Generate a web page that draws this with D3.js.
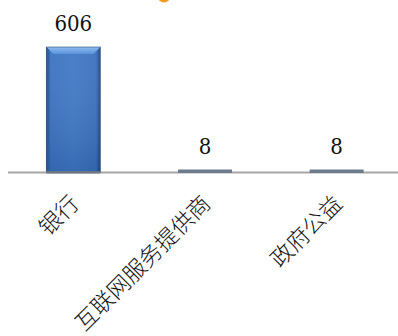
<!DOCTYPE html>
<html>
<head>
<meta charset="utf-8">
<script src="https://cdn.jsdelivr.net/npm/d3@7"></script>
<style>
  html, body { margin: 0; padding: 0; background: #fff; }
  svg { display: block; }
  .val { font-family: "DejaVu Serif Condensed", "DejaVu Serif", serif; font-stretch: condensed; font-size: 22px; fill: #111; }
  .cat { font-family: "Noto Sans CJK SC", sans-serif; font-size: 22.5px; font-weight: 300; fill: #111; }
</style>
</head>
<body>
<svg id="chart" width="398" height="336"></svg>
<script>
// Data
const categories = ["银行", "互联网服务提供商", "政府公益"];
const values = [606, 8, 8];

const W = 398, H = 336;
const plot = { left: 8, right: 403, top: 47, bottom: 172 };

const svg = d3.select("#chart");

// band scale: one slot per category, bar drawn centred in each slot
const x = d3.scaleBand()
  .domain(categories)
  .range([plot.left, plot.right])
  .paddingInner(0)
  .paddingOuter(0);
const barW = 54;
const cx = d => x(d) + x.bandwidth() / 2 - 0.5;

const y = d3.scaleLinear()
  .domain([0, 606])
  .range([plot.bottom, plot.top]);

const defs = svg.append("defs");

// horizontal shading: darker edges, lighter body
const gBody = defs.append("linearGradient").attr("id", "body").attr("x1", 0).attr("x2", 1).attr("y1", 0).attr("y2", 0);
gBody.append("stop").attr("offset", "0%").attr("stop-color", "#24508f");
gBody.append("stop").attr("offset", "8%").attr("stop-color", "#3b72c0");
gBody.append("stop").attr("offset", "50%").attr("stop-color", "#4079c6");
gBody.append("stop").attr("offset", "92%").attr("stop-color", "#3a70bc");
gBody.append("stop").attr("offset", "100%").attr("stop-color", "#1f4680");

// vertical fade toward the base
const gFade = defs.append("linearGradient").attr("id", "fade").attr("x1", 0).attr("x2", 0).attr("y1", 0).attr("y2", 1);
gFade.append("stop").attr("offset", "0%").attr("stop-color", "#ffffff").attr("stop-opacity", 0.05);
gFade.append("stop").attr("offset", "100%").attr("stop-color", "#0a2a5a").attr("stop-opacity", 0.18);

const gTop = defs.append("linearGradient").attr("id", "bevelTop").attr("x1", 0).attr("x2", 0).attr("y1", 0).attr("y2", 1);
gTop.append("stop").attr("offset", "0%").attr("stop-color", "#8fbcf0");
gTop.append("stop").attr("offset", "100%").attr("stop-color", "#5a92da");

// title marker peeking in at the very top
svg.append("circle").attr("cx", 164).attr("cy", -4).attr("r", 6.5).attr("fill", "#f39a1e");

// baseline
svg.append("line")
  .attr("x1", plot.left).attr("x2", W)
  .attr("y1", plot.bottom + 0.5).attr("y2", plot.bottom + 0.5)
  .attr("stroke", "#a6a6a6").attr("stroke-width", 2);

const bars = svg.append("g").selectAll("g")
  .data(categories.map((c, i) => ({ c, v: values[i] })))
  .join("g");

bars.each(function(d) {
  const g = d3.select(this);
  const x0 = cx(d.c) - barW / 2, x1 = x0 + barW;
  const yt = y(d.v), yb = y(0);
  const h = yb - yt;
  if (h > 10) {
    g.append("rect").attr("x", x0).attr("y", yt).attr("width", barW).attr("height", h).attr("fill", "url(#body)");
    g.append("rect").attr("x", x0).attr("y", yt).attr("width", barW).attr("height", h).attr("fill", "url(#fade)");
    const b = 7;
    g.append("path")
      .attr("d", `M${x0},${yt}L${x1},${yt}L${x1 - b},${yt + b}L${x0 + b},${yt + b}Z`)
      .attr("fill", "url(#bevelTop)");
    g.append("path")
      .attr("d", `M${x0},${yt}L${x0 + 3},${yt + 3}L${x0 + 3},${yb}L${x0},${yb}Z`)
      .attr("fill", "#2a5a9e").attr("opacity", 0.6);
    g.append("rect").attr("x", x0).attr("y", yt).attr("width", barW).attr("height", h)
      .attr("fill", "none").attr("stroke", "#1d4275").attr("stroke-width", 0.8).attr("opacity", 0.7);
    g.append("rect").attr("x", x0).attr("y", yb - 1).attr("width", barW).attr("height", 2.5).attr("fill", "#6c7785");
  } else {
    g.append("rect").attr("x", x0).attr("y", Math.min(yt, yb - 2) - 0.5).attr("width", barW)
      .attr("height", Math.max(h, 2) + 1.5).attr("fill", "#6c7b8e");
  }
  g.append("text")
    .attr("class", "val")
    .attr("x", cx(d.c))
    .attr("y", yt - 16)
    .attr("text-anchor", "middle")
    .text(d.v);
});

// rotated category labels
svg.append("g").selectAll("text")
  .data(categories)
  .join("text")
  .attr("class", "cat")
  .attr("transform", d => `translate(${cx(d) + 7},${plot.bottom + 33}) rotate(-45)`)
  .attr("text-anchor", "end")
  .text(d => d);
</script>
</body>
</html>
